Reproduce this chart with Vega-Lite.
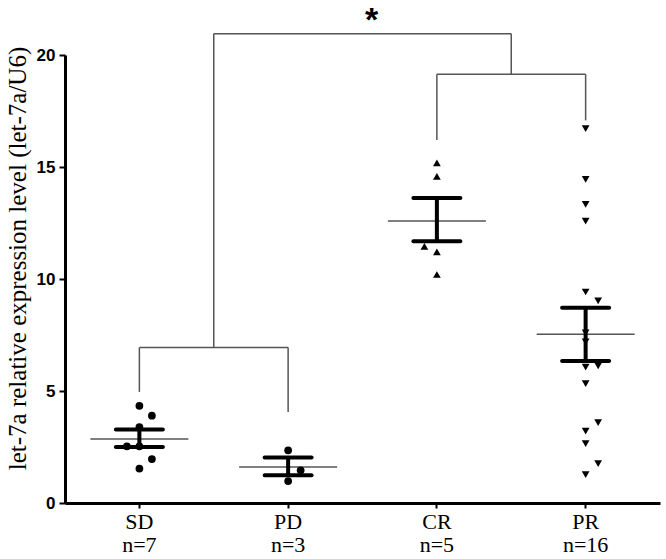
{
  "$schema": "https://vega.github.io/schema/vega-lite/v6.json",
  "width": 595,
  "height": 448,
  "autosize": {"type": "none"},
  "padding": {"left": 65, "top": 55, "right": 6, "bottom": 56},
  "background": "white",
  "config": {"view": {"stroke": null}},
  "datasets": {
    "points": [
      {"group": "SD", "slot": "C", "value": 4.34},
      {"group": "SD", "slot": "R", "value": 3.90},
      {"group": "SD", "slot": "C", "value": 3.39},
      {"group": "SD", "slot": "L", "value": 2.53},
      {"group": "SD", "slot": "C", "value": 2.53},
      {"group": "SD", "slot": "R", "value": 1.96},
      {"group": "SD", "slot": "C", "value": 1.54},
      {"group": "PD", "slot": "C", "value": 2.35},
      {"group": "PD", "slot": "R", "value": 1.46},
      {"group": "PD", "slot": "C", "value": 0.98},
      {"group": "CR", "slot": "C", "value": 15.18},
      {"group": "CR", "slot": "C", "value": 14.58},
      {"group": "CR", "slot": "L", "value": 11.46},
      {"group": "CR", "slot": "C", "value": 11.21},
      {"group": "CR", "slot": "C", "value": 10.20},
      {"group": "PR", "slot": "C", "value": 16.71},
      {"group": "PR", "slot": "C", "value": 14.45},
      {"group": "PR", "slot": "C", "value": 13.33},
      {"group": "PR", "slot": "C", "value": 12.58},
      {"group": "PR", "slot": "C", "value": 9.42},
      {"group": "PR", "slot": "R", "value": 9.02},
      {"group": "PR", "slot": "C", "value": 7.6},
      {"group": "PR", "slot": "C", "value": 7.19},
      {"group": "PR", "slot": "C", "value": 6.07},
      {"group": "PR", "slot": "R", "value": 6.12},
      {"group": "PR", "slot": "C", "value": 5.33},
      {"group": "PR", "slot": "R", "value": 3.59},
      {"group": "PR", "slot": "C", "value": 3.21},
      {"group": "PR", "slot": "C", "value": 2.65},
      {"group": "PR", "slot": "R", "value": 1.76},
      {"group": "PR", "slot": "C", "value": 1.27}
    ],
    "summary": [
      {"group": "SD", "mean": 2.86, "lo": 2.50, "hi": 3.28},
      {"group": "PD", "mean": 1.61, "lo": 1.24, "hi": 2.03},
      {"group": "CR", "mean": 12.59, "lo": 11.68, "hi": 13.62},
      {"group": "PR", "mean": 7.53, "lo": 6.34, "hi": 8.72}
    ],
    "brackets": [
      {"kind": "c", "g1": "SD", "g2": "PD", "y1": 6.94, "y2": 6.94},
      {"kind": "c", "g1": "SD", "g2": "SD", "y1": 4.96, "y2": 6.94},
      {"kind": "c", "g1": "PD", "g2": "PD", "y1": 4.06, "y2": 6.94},
      {"kind": "c", "g1": "CR", "g2": "PR", "y1": 19.14, "y2": 19.14},
      {"kind": "c", "g1": "CR", "g2": "CR", "y1": 16.2, "y2": 19.14},
      {"kind": "c", "g1": "PR", "g2": "PR", "y1": 17.08, "y2": 19.14},
      {"kind": "m", "g1": "SD", "g2": "CR", "y1": 20.95, "y2": 20.95},
      {"kind": "m", "g1": "SD", "g2": "SD", "y1": 6.94, "y2": 20.95},
      {"kind": "m", "g1": "CR", "g2": "CR", "y1": 19.14, "y2": 20.95}
    ],
    "star": [{"g": "PD", "y": 21.8, "label": "*"}]
  },
  "layer": [
    {
      "data": {"name": "brackets"},
      "transform": [{"filter": "datum.kind == 'c'"}],
      "mark": {"type": "rule", "color": "#555555", "strokeWidth": 1.5},
      "encoding": {
        "x": {"field": "g1", "type": "nominal", "bandPosition": 0.5,
              "scale": {"type": "band", "domain": ["SD", "PD", "CR", "PR"], "paddingInner": 0, "paddingOuter": 0}},
        "x2": {"field": "g2", "bandPosition": 0.5},
        "y": {"field": "y1", "type": "quantitative"},
        "y2": {"field": "y2"}
      }
    },
    {
      "data": {"name": "brackets"},
      "transform": [{"filter": "datum.kind == 'm'"}],
      "mark": {"type": "rule", "color": "#555555", "strokeWidth": 1.5},
      "encoding": {
        "x": {"field": "g1", "type": "nominal", "bandPosition": 1,
              "scale": {"type": "band", "domain": ["SD", "PD", "CR", "PR"], "paddingInner": 0, "paddingOuter": 0}},
        "x2": {"field": "g2", "bandPosition": 1},
        "y": {"field": "y1", "type": "quantitative"},
        "y2": {"field": "y2"}
      }
    },
    {
      "data": {"name": "star"},
      "mark": {"type": "text", "font": "Liberation Sans", "fontWeight": "bold", "fontSize": 34, "baseline": "middle", "align": "center", "dx": 9, "dy": 6, "color": "black"},
      "encoding": {
        "x": {"field": "g", "type": "nominal", "bandPosition": 1,
              "scale": {"type": "band", "domain": ["SD", "PD", "CR", "PR"], "paddingInner": 0, "paddingOuter": 0}},
        "y": {"field": "y", "type": "quantitative"},
        "text": {"field": "label"}
      }
    },
    {
      "data": {"name": "summary"},
      "mark": {"type": "tick", "color": "#555555", "opacity": 1, "thickness": 1.5, "size": 98, "orient": "horizontal"},
      "encoding": {
        "x": {"field": "group", "type": "nominal",
              "scale": {"type": "band", "domain": ["SD", "PD", "CR", "PR"], "paddingInner": 0, "paddingOuter": 0}},
        "y": {"field": "mean", "type": "quantitative"}
      }
    },
    {
      "data": {"name": "summary"},
      "mark": {"type": "tick", "color": "black", "opacity": 1, "thickness": 4, "size": 51, "orient": "horizontal", "cornerRadius": 2},
      "encoding": {
        "x": {"field": "group", "type": "nominal",
              "scale": {"type": "band", "domain": ["SD", "PD", "CR", "PR"], "paddingInner": 0, "paddingOuter": 0}},
        "y": {"field": "lo", "type": "quantitative"}
      }
    },
    {
      "data": {"name": "summary"},
      "mark": {"type": "tick", "color": "black", "opacity": 1, "thickness": 4, "size": 51, "orient": "horizontal", "cornerRadius": 2},
      "encoding": {
        "x": {"field": "group", "type": "nominal",
              "scale": {"type": "band", "domain": ["SD", "PD", "CR", "PR"], "paddingInner": 0, "paddingOuter": 0}},
        "y": {"field": "hi", "type": "quantitative"}
      }
    },
    {
      "data": {"name": "summary"},
      "mark": {"type": "rule", "color": "black", "strokeWidth": 4},
      "encoding": {
        "x": {"field": "group", "type": "nominal", "bandPosition": 0.5,
              "scale": {"type": "band", "domain": ["SD", "PD", "CR", "PR"], "paddingInner": 0, "paddingOuter": 0}},
        "y": {"field": "lo", "type": "quantitative"},
        "y2": {"field": "hi"}
      }
    },
    {
      "data": {"name": "points"},
      "mark": {"type": "point", "filled": true, "opacity": 1, "color": "black", "size": 60},
      "encoding": {
        "x": {"field": "group", "type": "nominal",
              "scale": {"type": "band", "domain": ["SD", "PD", "CR", "PR"], "paddingInner": 0, "paddingOuter": 0},
              "axis": {
                "title": null,
                "labelExpr": "datum.value == 'SD' ? ['SD', 'n=7'] : datum.value == 'PD' ? ['PD', 'n=3'] : datum.value == 'CR' ? ['CR', 'n=5'] : ['PR', 'n=16']",
                "labelFont": "Liberation Serif", "labelFontSize": 22, "labelLineHeight": 23,
                "labelColor": "black", "labelAngle": 0, "labelPadding": 3,
                "labelAlign": "center", "labelBaseline": "top",
                "domainColor": "black", "domainWidth": 3,
                "tickColor": "black", "tickWidth": 2, "tickSize": 5
              }},
        "xOffset": {"field": "slot", "type": "nominal",
                    "scale": {"type": "point", "domain": ["L", "C", "R"], "range": [61.9, 86.9], "padding": 0}},
        "y": {"field": "value", "type": "quantitative",
              "scale": {"domain": [0, 20], "nice": false},
              "axis": {
                "title": "let-7a relative expression level (let-7a/U6)",
                "titleFont": "Liberation Serif", "titleFontSize": 25, "titleFontWeight": "normal", "titleColor": "black",
                "titleAngle": 270, "titleAlign": "center", "titleBaseline": "middle", "titleX": -48, "titleY": 203,
                "values": [0, 5, 10, 15, 20], "grid": false,
                "labelFont": "Liberation Sans", "labelFontWeight": "bold", "labelFontSize": 17, "labelColor": "black", "labelPadding": 4,
                "domainColor": "black", "domainWidth": 3,
                "tickColor": "black", "tickWidth": 2, "tickSize": 6
              }},
        "shape": {"field": "group", "type": "nominal", "legend": null,
                  "scale": {"domain": ["SD", "PD", "CR", "PR"], "range": ["circle", "circle", "triangle-up", "triangle-down"]}}
      }
    }
  ]
}
